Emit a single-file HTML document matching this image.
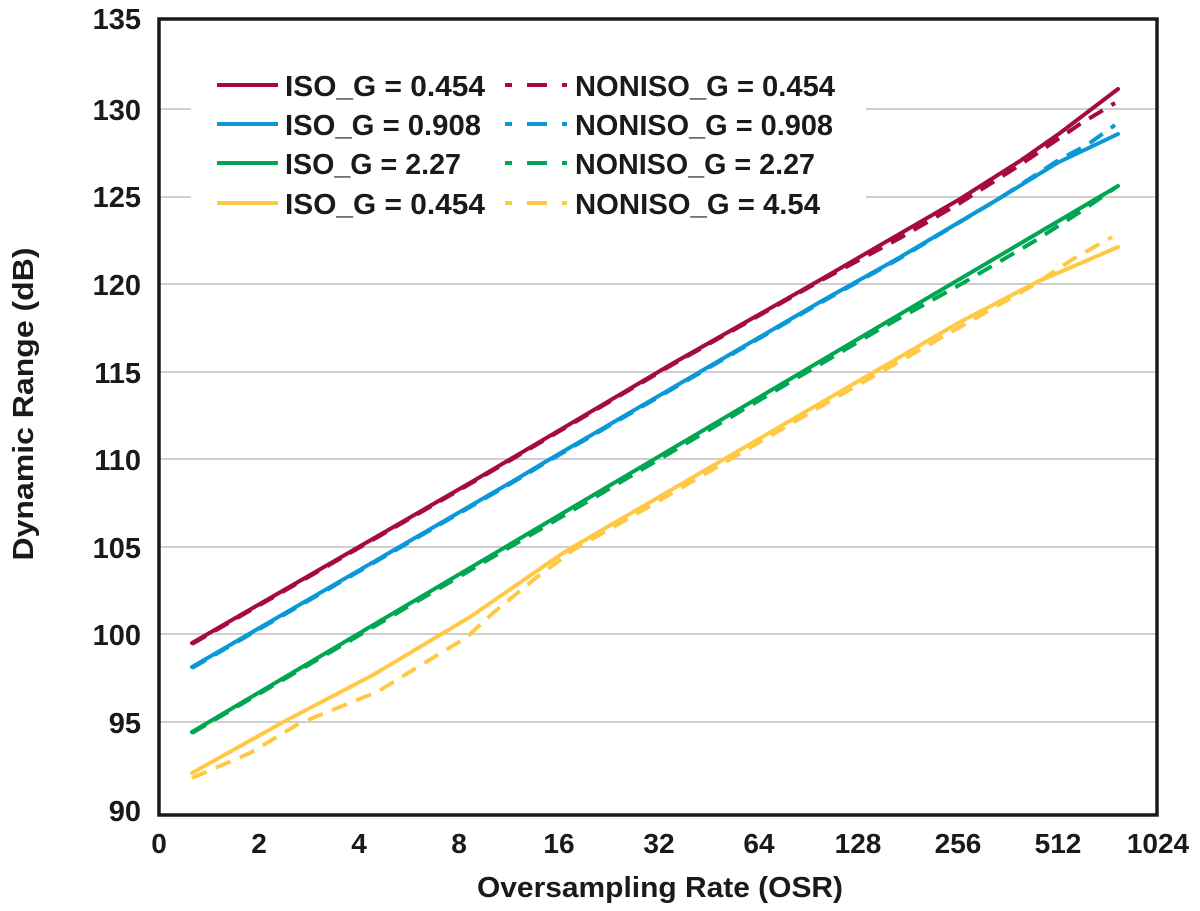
<!DOCTYPE html>
<html>
<head>
<meta charset="utf-8">
<style>
  html, body { margin: 0; padding: 0; background: #ffffff; }
  svg { display: block; }
  text { font-family: "Liberation Sans", Arial, sans-serif; font-weight: bold; fill: #1a1a1a; }
</style>
</head>
<body>
<svg width="1200" height="911" viewBox="0 0 1200 911" xmlns="http://www.w3.org/2000/svg">
  <rect x="0" y="0" width="1200" height="911" fill="#ffffff"/>

  <!-- gridlines -->
  <g stroke="#cfcfcf" stroke-width="2">
    <line x1="160" y1="109" x2="1156" y2="109"/>
    <line x1="160" y1="197" x2="1156" y2="197"/>
    <line x1="160" y1="284" x2="1156" y2="284"/>
    <line x1="160" y1="372" x2="1156" y2="372"/>
    <line x1="160" y1="459" x2="1156" y2="459"/>
    <line x1="160" y1="547" x2="1156" y2="547"/>
    <line x1="160" y1="634" x2="1156" y2="634"/>
    <line x1="160" y1="722" x2="1156" y2="722"/>
  </g>

  <!-- legend background -->
  <rect x="191" y="58" width="675" height="168" fill="#ffffff"/>

  <!-- series -->
  <g fill="none" stroke-width="4" stroke-linejoin="round" stroke-linecap="round">
    <!-- dashed first -->
    <polyline stroke="#FFC845" stroke-dasharray="16 10" stroke-linecap="butt"
      points="192,778 250,753 300,723 377,692 467,637 493,613 537,577 560,560 573,550 650,506 830,401 960,327 1037,283 1073,259 1112,237"/>
    <polyline stroke="#00A651" stroke-dasharray="16 10" stroke-linecap="butt"
      points="192,733 580,506 880,329 963,283 1033,242 1080,212 1115,188"/>
    <polyline stroke="#0A98D6" stroke-dasharray="16 10" stroke-linecap="butt"
      points="192,668 515,481 540,466 820,303 897,260 1000,198 1057,161 1087,145 1115,125"/>
    <polyline stroke="#A50B3C" stroke-dasharray="16 10" stroke-linecap="butt"
      points="192,644 475,481 670,366 820,281 900,238 960,203 1020,165 1080,124 1115,103"/>

    <!-- solid -->
    <polyline stroke="#FFC845"
      points="192,773 287,720 373,675 470,617 560,555 573,547 960,322 1037,282 1118,247"/>
    <polyline stroke="#00A651"
      points="192,732 580,503 880,326 1118,186"/>
    <polyline stroke="#0A98D6"
      points="192,667 515,480 540,465 820,302 897,259 1000,198 1057,163 1118,134"/>
    <polyline stroke="#A50B3C"
      points="192,643 475,480 670,365 820,280 858,258 960,199 1020,161 1060,133 1118,89"/>
  </g>

  <!-- frame -->
  <rect x="159" y="19" width="998" height="796" fill="none" stroke="#1a1a1a" stroke-width="3.5"/>

  <!-- legend -->
  <g stroke-width="4" fill="none">
    <line x1="217" y1="85" x2="278" y2="85" stroke="#A50B3C"/>
    <line x1="217" y1="124" x2="278" y2="124" stroke="#0A98D6"/>
    <line x1="217" y1="163" x2="278" y2="163" stroke="#00A651"/>
    <line x1="217" y1="203" x2="278" y2="203" stroke="#FFC845"/>
    <line x1="505" y1="85" x2="567" y2="85" stroke="#A50B3C" stroke-dasharray="20 15" stroke-dashoffset="13"/>
    <line x1="505" y1="124" x2="567" y2="124" stroke="#0A98D6" stroke-dasharray="20 15" stroke-dashoffset="13"/>
    <line x1="505" y1="163" x2="567" y2="163" stroke="#00A651" stroke-dasharray="20 15" stroke-dashoffset="13"/>
    <line x1="505" y1="203" x2="567" y2="203" stroke="#FFC845" stroke-dasharray="20 15" stroke-dashoffset="13"/>
  </g>
  <g font-size="29">
    <text x="285" y="96" textLength="200" lengthAdjust="spacingAndGlyphs">ISO_G = 0.454</text>
    <text x="285" y="135" textLength="196" lengthAdjust="spacingAndGlyphs">ISO_G = 0.908</text>
    <text x="285" y="174" textLength="176" lengthAdjust="spacingAndGlyphs">ISO_G = 2.27</text>
    <text x="285" y="214" textLength="200" lengthAdjust="spacingAndGlyphs">ISO_G = 0.454</text>
    <text x="575" y="96" textLength="260" lengthAdjust="spacingAndGlyphs">NONISO_G = 0.454</text>
    <text x="575" y="135" textLength="258" lengthAdjust="spacingAndGlyphs">NONISO_G = 0.908</text>
    <text x="575" y="174" textLength="240" lengthAdjust="spacingAndGlyphs">NONISO_G = 2.27</text>
    <text x="575" y="214" textLength="245" lengthAdjust="spacingAndGlyphs">NONISO_G = 4.54</text>
  </g>

  <!-- y tick labels -->
  <g font-size="29" text-anchor="end">
    <text x="141" y="29">135</text>
    <text x="141" y="120">130</text>
    <text x="141" y="207">125</text>
    <text x="141" y="295">120</text>
    <text x="141" y="383">115</text>
    <text x="141" y="470">110</text>
    <text x="141" y="558">105</text>
    <text x="141" y="645">100</text>
    <text x="141" y="733">95</text>
    <text x="141" y="821">90</text>
  </g>

  <!-- x tick labels -->
  <g font-size="28" text-anchor="middle">
    <text x="159" y="853">0</text>
    <text x="259" y="853">2</text>
    <text x="359" y="853">4</text>
    <text x="459" y="853">8</text>
    <text x="559" y="853">16</text>
    <text x="659" y="853">32</text>
    <text x="759" y="853">64</text>
    <text x="858" y="853">128</text>
    <text x="958" y="853">256</text>
    <text x="1058" y="853">512</text>
    <text x="1158" y="853">1024</text>
  </g>

  <!-- axis titles -->
  <text x="660" y="897" font-size="29" text-anchor="middle" textLength="366" lengthAdjust="spacingAndGlyphs">Oversampling Rate (OSR)</text>
  <text transform="translate(33,404) rotate(-90)" font-size="29" text-anchor="middle" textLength="313" lengthAdjust="spacingAndGlyphs">Dynamic Range (dB)</text>
</svg>
</body>
</html>
